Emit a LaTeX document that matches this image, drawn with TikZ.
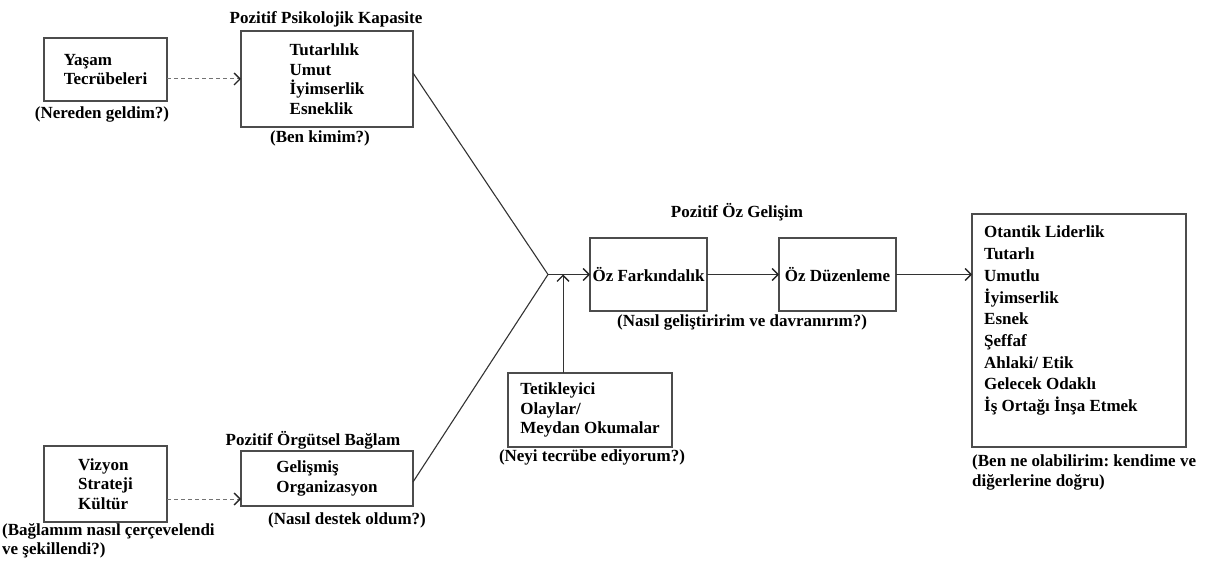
\documentclass[tikz,border=0pt]{standalone}
\usepackage{fontspec}
\setmainfont{Liberation Serif}
\usetikzlibrary{arrows.meta, positioning}
\frenchspacing

\begin{document}
\begin{tikzpicture}[
  x=1pt, y=-1pt,
  every node/.style={font=\fontsize{17}{19.5}\selectfont\bfseries, inner sep=0pt},
  box/.style={draw=black!70, line width=1.3pt, align=left, outer sep=0pt},
  qtext/.style={align=left},
  arr/.style={-{Straight Barb[length=6pt, width=12pt, line width=1.3pt, color=black!85]}, line width=1pt, black!80},
  dasharr/.style={arr, dash pattern=on 4pt off 3pt, black!55},
  link/.style={line width=1.1pt, black!80}
]
  \useasboundingbox (0,0) rectangle (1218,569);

  % ---- left column: sources ----
  \node[box, minimum width=123, minimum height=63] (life) at (105.5,69.5) {Yaşam\\Tecrübeleri};
  \node[qtext] (lifeq) at (102,114) {(Nereden geldim?)};

  \node[box, minimum width=123, minimum height=76] (vis) at (105.5,484) {Vizyon\\Strateji\\Kültür};
  \node[qtext, anchor=west] (visq) at (2,541) {(Bağlamım nasıl çerçevelendi\\ve şekillendi?)};

  % ---- second column: capacity and context ----
  \node (psyt) at (326,19) {Pozitif Psikolojik Kapasite};
  \node[box, minimum width=172, minimum height=96] (psy) at (327,79) {Tutarlılık\\Umut\\İyimserlik\\Esneklik};
  \node[qtext] (psyq) at (320,138) {(Ben kimim?)};

  \node (orgt) at (313,440) {Pozitif Örgütsel Bağlam};
  \node[box, minimum width=172, minimum height=55] (org) at (327,478.5) {Gelişmiş\\Organizasyon};
  \node[qtext] (orgq) at (347,520) {(Nasıl destek oldum?)};

  % ---- middle: self development ----
  \node (devt) at (737,212) {Pozitif Öz Gelişim};
  \node[box, minimum width=117, minimum height=73] (aware) at (648.5,274.5) {Öz Farkındalık};
  \node[box, minimum width=117, minimum height=73] (reg) at (837.5,274.5) {Öz Düzenleme};
  \node[qtext] (devq) at (742,322) {(Nasıl geliştiririm ve davranırım?)};

  \node[box, minimum width=164, minimum height=74] (trig) at (590,410) {Tetikleyici\\Olaylar/\\Meydan Okumalar};
  \node[qtext] (trigq) at (592,457) {(Neyi tecrübe ediyorum?)};

  % ---- right: outcome ----
  \node[box, minimum width=214, minimum height=233] (lead) at (1079,330.5) {};
  \node[qtext, anchor=north west, font=\fontsize{17}{21.7}\selectfont\bfseries] (leadtxt) at (984,226)
    {Otantik Liderlik\\Tutarlı\\Umutlu\\İyimserlik\\Esnek\\Şeffaf\\Ahlaki/ Etik\\Gelecek Odaklı\\İş Ortağı İnşa Etmek};
  \node[qtext, anchor=west] (leadq) at (972,472.5) {(Ben ne olabilirim: kendime ve\\diğerlerine doğru)};

  \coordinate (meet) at (548,274.5);
  \coordinate (up)   at (563,274.5);

  % ---- dashed feeds ----
  \draw[dasharr] ([yshift=-9.5pt]life.east) -- ([yshift=-9.5pt]life.east -| psy.west);
  \draw[dasharr] ([yshift=-15pt]vis.east) -- ([yshift=-15pt]vis.east -| org.west);

  % ---- both lanes meet ----
  \draw[link] ([yshift=6pt]psy.east) -- (meet);
  \draw[link] ([yshift=-3.5pt]org.east) -- (meet);
  \draw[arr] (meet) -- (aware);
  \draw[arr] (trig.north -| up) -- (up);

  % ---- on to the outcome ----
  \draw[arr] (aware) -- (reg);
  \draw[arr] (reg) -- (reg -| lead.west);
\end{tikzpicture}
\end{document}
